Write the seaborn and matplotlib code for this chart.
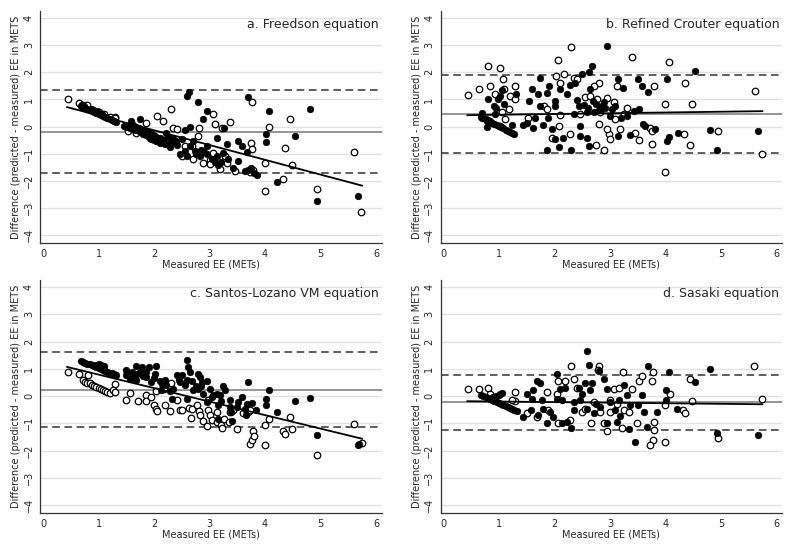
import numpy as np
import matplotlib
matplotlib.use("Agg")
import matplotlib.pyplot as plt
import seaborn as sns

# panel titles
titles = ["a. Freedson equation", "b. Refined Crouter equation",
          "c. Santos-Lozano VM equation", "d. Sasaki equation"]

# mean difference, upper and lower limits of agreement
mean_diff = [-0.20, 0.45, 0.23, -0.22]
upper_loa = [1.34, 1.89, 1.60, 0.78]
lower_loa = [-1.72, -0.96, -1.15, -1.23]

# regression line (intercept, slope) and x-range
reg_int = [0.954, 0.408, 1.283, -0.181]
reg_slope = [-0.545, 0.028, -0.496, -0.021]
reg_x = [0.43, 5.75]

# ---- panel a ----
a_filled = np.array([
    [0.68,0.77],[0.72,0.73],[0.76,0.70],[0.80,0.66],[0.84,0.62],[0.88,0.59],[0.92,0.55],[0.96,0.51],
    [1.00,0.47],[1.04,0.44],[1.08,0.40],[1.12,0.36],[1.16,0.32],[1.20,0.29],[1.24,0.25],[1.28,0.21],
    [1.32,0.18],[0.74,0.76],[0.86,0.66],[0.98,0.56],[1.06,0.48],
    [1.45,0.02],[1.50,-0.02],[1.55,0.00],[1.60,-0.08],[1.65,-0.12],[1.70,-0.10],[1.75,-0.20],[1.80,-0.28],
    [1.85,-0.30],[1.90,-0.38],[1.95,-0.45],[2.00,-0.50],[2.05,-0.55],[2.10,-0.60],[2.15,-0.58],[2.20,-0.65],
    [1.62,0.05],[1.72,-0.05],[1.82,-0.15],[1.92,-0.25],[2.02,-0.35],[2.12,-0.45],
    [1.57,-0.06],[1.67,-0.02],[1.77,-0.12],[1.87,-0.20],[1.97,-0.28],[2.07,-0.42],[2.17,-0.50],[2.25,-0.40],
    [2.59,1.11],[2.63,1.28],[2.80,0.89],[2.89,0.27],[2.95,0.58],[3.69,1.09],[4.07,0.58],[4.81,0.66],
    [4.01,-0.26],[4.01,-0.57],[4.53,-0.34],[4.21,-2.04],[4.93,-2.73],[5.67,-2.55],[3.85,-1.78],[3.67,-0.93],
    [3.59,-0.73],[3.52,-0.53],[3.51,-1.27],[3.31,-0.65],[3.14,-0.41],[3.26,-0.06],[2.65,0.00],[2.56,-0.12],
    [2.50,-0.47],[2.42,-0.68],[2.35,-0.47],[2.22,-0.22],[2.04,-0.53],[1.92,-0.41],[1.74,0.27],[1.59,0.21],
    [1.68,-0.04],[1.80,-0.22],[1.98,-0.34],[2.10,-0.41],[2.29,-0.77],[2.47,-1.02],[2.59,-1.08],[2.74,-0.90],
    [2.83,-1.08],[2.95,-0.71],[3.13,-1.08],[3.16,-1.41],[3.34,-1.21],[3.43,-1.51],[3.64,-1.64],[3.74,-1.54],
    [3.25,-0.96],[2.95,-1.02],[2.65,-0.71],[2.70,-0.55],[2.85,-0.85],[3.05,-1.20],[3.20,-1.30],[3.80,-1.72],
    [3.70,-1.60],[2.40,-0.55],[2.30,-0.60],[2.75,-1.00],[2.90,-0.95],[3.10,-1.30],[2.55,-0.90]])
a_hollow = np.array([
    [0.45,1.03],[0.65,0.86],[0.79,0.81],[2.30,0.64],[2.06,0.39],[2.17,0.21],[1.85,0.12],[1.29,0.37],
    [1.20,0.37],[3.07,0.46],[3.09,0.09],[3.37,0.17],[3.23,-0.06],[2.35,-0.07],[2.41,-0.10],[2.81,-0.06],
    [3.76,0.89],[4.07,0.00],[4.45,0.27],[3.75,-0.59],[3.77,-0.84],[4.36,-0.79],[4.48,-1.41],[4.00,-1.33],
    [4.00,-2.37],[4.32,-1.94],[4.94,-2.30],[5.60,-0.92],[5.73,-3.15],[2.79,-0.34],[2.68,-0.71],[2.89,-1.33],
    [3.00,-1.24],[3.01,-1.39],[3.28,-1.08],[3.31,-1.33],[3.46,-1.64],[3.73,-1.67],[3.79,-1.61],[3.19,-1.57],
    [2.51,-1.08],[2.71,-1.21],[2.56,-0.71],[2.77,-0.96],[3.07,-0.96],[2.19,-0.59],[1.92,-0.34],[1.68,-0.22],
    [1.53,-0.16],[0.70,0.80],[0.90,0.62],[1.10,0.45],[1.30,0.30],[1.00,0.52]])

# ---- panel b ----
b_filled = np.array([
    [0.68,0.37],[0.72,0.32],[0.76,0.28],[0.80,0.24],[0.84,0.19],[0.88,0.15],[0.92,0.10],[0.96,0.06],
    [1.00,0.02],[1.04,-0.03],[1.08,-0.07],[1.12,-0.12],[1.16,-0.16],[1.20,-0.20],[1.24,-0.25],[1.28,-0.29],
    [0.70,0.30],[0.78,0.22],[0.86,0.13],
    [0.70,0.49],[0.80,1.03],[0.79,-0.02],[0.92,0.76],[0.99,1.01],[1.02,1.13],[1.05,1.35],[0.93,0.46],
    [1.23,0.05],[1.31,1.19],[1.55,0.95],[1.59,1.40],[1.74,1.78],[1.70,1.19],[1.86,1.25],[1.74,0.76],
    [1.91,1.50],[2.11,1.38],[2.22,1.19],[2.29,1.53],[2.38,1.62],[2.50,1.93],[2.41,0.97],[2.53,0.79],
    [2.65,1.38],[2.63,2.02],[2.68,2.24],[2.59,0.52],[2.95,2.98],[2.92,0.70],[2.83,0.64],[3.01,0.39],
    [3.14,1.77],[3.23,1.44],[3.50,1.77],[3.58,1.48],[3.68,1.28],[3.52,0.64],[4.02,1.77],[4.54,2.05],
    [4.07,-0.37],[4.02,-0.55],[4.22,-0.22],[4.81,-0.12],[4.93,-0.86],[5.67,-0.18],[3.82,-0.10],[3.64,0.02],
    [3.37,-0.32],[3.14,-0.34],[2.62,-0.71],[2.30,-0.86],[1.86,-0.86],[2.09,-0.75],[2.16,-0.41],[2.02,-0.47],
    [2.47,-0.34],[2.47,0.02],[2.59,-0.41],[2.01,0.95],[2.01,0.76],[1.89,0.33],[1.80,0.05],[1.65,0.33],
    [1.61,-0.04],[1.44,0.05],[1.50,0.15],[1.95,-0.10],[2.35,0.46],[2.71,0.52],[3.04,0.64],[3.43,0.58],
    [2.75,0.85],[2.85,0.75],[2.70,0.95],[3.30,0.40],[3.60,0.10],[2.90,0.90],[3.20,0.30],[1.10,0.85],
    [0.95,0.70],[2.60,0.70],[2.80,0.60],[2.45,0.75],[3.10,0.75]])
b_hollow = np.array([
    [0.45,1.17],[0.65,1.40],[0.81,2.24],[1.02,2.15],[0.84,1.48],[1.08,1.75],[1.10,1.40],[1.29,1.50],
    [1.20,1.11],[1.29,1.03],[1.19,0.64],[0.93,1.19],[1.05,0.52],[1.11,0.27],[1.02,0.02],[2.30,2.94],
    [2.06,2.45],[2.17,1.93],[2.03,1.85],[2.11,1.60],[2.35,1.78],[2.41,1.77],[2.80,1.59],[2.71,1.48],
    [2.56,1.09],[2.65,1.13],[2.77,1.01],[2.95,1.07],[3.07,0.89],[3.13,1.48],[3.40,2.58],[4.07,2.39],
    [4.36,1.62],[3.79,1.48],[3.99,0.85],[4.48,0.82],[4.33,-0.28],[4.45,-0.69],[4.94,-0.16],[5.61,1.32],
    [5.74,-1.00],[3.99,-1.67],[3.76,-0.63],[3.52,-0.50],[3.46,-0.22],[3.73,-0.04],[3.76,-0.16],[3.31,0.70],
    [3.25,0.46],[3.19,-0.10],[2.98,-0.28],[3.01,-0.44],[2.89,-0.87],[2.75,-0.69],[2.29,-0.26],[1.95,-0.41],
    [2.08,0.02],[1.82,0.76],[1.86,0.64],[2.11,0.42],[1.53,0.32],[2.81,0.09],[3.10,0.27],[2.95,-0.10],
    [2.47,0.46],[2.83,0.52]])

# ---- panel c ----
c_filled = np.array([
    [0.68,1.29],[0.72,1.26],[0.76,1.23],[0.80,1.19],[0.84,1.16],[0.88,1.13],[0.92,1.09],[0.96,1.06],
    [1.00,1.03],[1.04,0.99],[1.08,0.96],[1.12,0.93],[1.16,0.89],[1.20,0.86],[1.24,0.83],[1.28,0.80],
    [1.32,0.76],[0.95,1.15],[1.00,1.18],[1.05,1.15],[1.10,1.12],
    [2.59,1.31],[2.62,1.06],[2.65,0.88],[2.79,0.79],[2.83,0.70],[1.49,0.96],[1.68,1.10],[1.74,0.88],
    [1.79,1.06],[1.91,1.06],[2.04,1.10],[2.01,0.82],[1.62,0.76],[1.56,0.61],[1.50,0.76],[1.68,0.57],
    [1.86,0.70],[1.95,0.51],[2.10,0.54],[2.13,0.21],[2.22,0.39],[2.29,0.17],[2.41,0.76],[2.51,0.76],
    [2.47,0.51],[2.56,0.39],[2.68,0.54],[2.71,0.21],[2.80,0.27],[2.87,0.51],[2.95,0.54],[2.89,0.09],
    [3.07,0.02],[3.13,0.09],[3.19,0.02],[3.25,0.35],[3.28,0.23],[3.37,-0.16],[3.37,-0.40],[3.39,-0.59],
    [3.41,-0.92],[3.52,-0.22],[3.58,-0.04],[3.67,-0.28],[3.66,-0.71],[3.70,0.51],[3.76,-0.26],[3.83,-0.50],
    [4.01,-0.10],[4.01,-0.32],[4.07,0.21],[4.21,-0.59],[4.53,-0.20],[4.81,-0.07],[4.93,-1.42],[5.67,-1.78],
    [5.69,-1.75],[3.16,-0.83],[2.95,-0.22],[2.59,-0.10],[2.35,0.27],[2.32,-0.10],[3.01,0.27],[3.16,-0.34],
    [3.49,-0.40],[3.64,-0.46],[2.20,0.60],[2.45,0.60],[1.80,0.75],[2.75,0.35],[3.05,-0.05],
    [1.60,0.90],[1.70,0.80],[1.85,0.90],[2.00,0.65],[2.15,0.45],[2.60,0.60],[2.85,0.35],[3.20,-0.20]])
c_hollow = np.array([
    [0.72,0.57],[0.76,0.53],[0.80,0.49],[0.84,0.46],[0.88,0.42],[0.92,0.38],[0.96,0.34],[1.00,0.31],
    [1.04,0.27],[1.08,0.23],[1.12,0.19],[1.16,0.16],[1.20,0.12],
    [0.45,0.88],[0.64,0.79],[0.81,0.76],[1.29,0.45],[1.26,0.21],[1.29,0.15],[1.50,-0.13],[1.56,0.12],
    [1.71,-0.20],[1.86,0.02],[1.86,-0.20],[1.95,-0.05],[2.00,-0.34],[2.04,-0.46],[2.06,-0.54],[2.19,-0.34],
    [2.29,-0.56],[2.30,0.49],[2.41,-0.15],[2.47,-0.52],[2.51,-0.50],[2.63,-0.44],[2.66,-0.81],[2.69,-0.46],
    [2.78,-0.32],[2.81,-0.56],[2.83,-0.71],[2.89,-0.92],[2.98,-0.52],[3.00,-0.71],[2.95,-1.10],[3.04,-0.87],
    [3.13,-0.95],[3.13,-0.59],[3.20,-1.05],[3.22,-1.17],[3.26,-0.85],[3.35,-0.95],[3.37,-0.59],[3.49,-1.20],
    [3.43,-0.52],[3.61,-0.62],[3.70,-0.59],[3.73,-0.52],[3.73,-1.75],[3.77,-1.62],[3.79,-1.28],[3.80,-1.48],
    [3.99,-1.05],[3.99,-1.81],[4.07,-0.85],[4.32,-1.29],[4.36,-1.38],[4.45,-0.76],[4.48,-1.22],[4.94,-2.15],
    [5.60,-1.01],[5.74,-1.71],[2.98,-0.16],[2.04,0.17],[2.18,0.27]])

# ---- panel d ----
d_filled = np.array([
    [0.68,0.03],[0.72,-0.01],[0.76,-0.04],[0.80,-0.08],[0.84,-0.12],[0.88,-0.15],[0.92,-0.19],[0.96,-0.23],
    [1.00,-0.27],[1.04,-0.30],[1.08,-0.34],[1.12,-0.38],[1.16,-0.41],[1.20,-0.45],[1.24,-0.49],[1.28,-0.52],
    [1.32,-0.56],[0.95,0.00],[1.00,0.05],[1.05,0.10],[0.90,-0.05],
    [2.59,1.64],[2.63,1.15],[2.80,0.92],[3.69,1.12],[4.07,0.88],[4.81,1.00],[4.53,0.51],[4.01,0.21],
    [4.01,-0.16],[4.21,-0.46],[4.93,-1.34],[5.67,-1.44],[3.45,-1.68],[3.67,-1.14],[3.85,-0.59],[3.61,-0.59],
    [3.58,0.05],[3.51,-0.32],[3.37,-0.34],[3.34,-1.20],[3.26,0.42],[3.19,-0.73],[3.13,-0.95],[3.16,-0.16],
    [2.95,-0.99],[2.95,0.24],[2.89,0.63],[2.68,0.49],[2.65,0.21],[2.71,-0.62],[2.56,0.49],[2.50,0.09],
    [2.47,-0.16],[2.35,-0.53],[2.30,-1.17],[2.22,-0.95],[2.13,-0.98],[2.04,0.82],[2.10,0.27],[2.13,-0.16],
    [1.98,-0.77],[1.92,-0.59],[1.80,-0.46],[1.86,-0.99],[1.77,-0.16],[1.74,0.49],[1.68,0.54],[1.62,0.21],
    [1.59,-0.10],[1.50,0.09],[1.44,-0.77],[1.58,-0.53],[1.71,-0.70],[1.02,0.09],[2.35,-0.22],[2.83,-0.40],
    [3.01,-0.22],[3.31,0.02],[2.59,-0.46],[2.04,-0.10],[2.20,0.30],[2.75,-0.30],[3.10,-0.50],[2.45,0.30]])
d_hollow = np.array([
    [0.45,0.24],[0.64,0.24],[0.81,0.31],[1.29,0.15],[1.29,-0.17],[1.23,-0.16],[0.84,0.09],[1.50,-0.62],
    [1.68,-0.77],[1.86,0.15],[1.89,-0.53],[2.04,0.09],[2.06,-0.99],[2.07,0.54],[2.19,0.54],[2.30,1.12],
    [2.29,-0.88],[2.35,0.61],[2.41,0.29],[2.50,-0.59],[2.66,-0.99],[2.81,1.10],[2.78,0.94],[2.83,-0.59],
    [2.89,-0.99],[2.95,-1.29],[3.01,-0.59],[3.01,-0.16],[3.07,0.27],[3.16,0.29],[3.22,-1.17],[3.23,0.88],
    [3.26,-0.53],[3.34,-0.59],[3.40,0.27],[3.49,-0.98],[3.52,0.54],[3.58,0.73],[3.77,0.88],[3.76,0.54],
    [3.79,-0.95],[3.80,-1.26],[3.77,-1.60],[3.73,-1.81],[4.00,-1.68],[4.00,-0.32],[4.08,0.09],[4.32,-0.53],
    [4.36,-0.62],[4.45,0.63],[4.48,-0.20],[4.94,-1.54],[5.60,1.10],[5.74,-0.10],[2.71,-0.22],[2.56,-0.46],
    [3.13,-0.28]])

filled_sets = [a_filled, b_filled, c_filled, d_filled]
hollow_sets = [a_hollow, b_hollow, c_hollow, d_hollow]

sns.set_style("white")
plt.rcParams['font.family'] = ['DejaVu Sans']

fig = plt.figure(figsize=(8, 5.49), dpi=100)
positions = [
    [0.0503, 0.557, 0.4268, 0.4224],
    [0.5507, 0.557, 0.4268, 0.4224],
    [0.0503, 0.0652, 0.4268, 0.4244],
    [0.5507, 0.0652, 0.4268, 0.4244],
]

for i in range(4):
    ax = fig.add_axes(positions[i])
    for yy in range(-4, 5):
        ax.axhline(yy, color='#e2e2e2', lw=1.0, zorder=0)
    ax.axhline(mean_diff[i], color='#8c8c8c', lw=1.3, zorder=1)
    ax.axhline(upper_loa[i], color='#333333', lw=1.1, ls=(0, (5, 3)), zorder=1)
    ax.axhline(lower_loa[i], color='#333333', lw=1.1, ls=(0, (5, 3)), zorder=1)

    f = filled_sets[i]
    h = hollow_sets[i]
    sns.scatterplot(x=h[:, 0], y=h[:, 1], ax=ax, s=22, color='white',
                    edgecolor='black', linewidth=0.9, zorder=2)
    sns.scatterplot(x=f[:, 0], y=f[:, 1], ax=ax, s=22, color='black',
                    edgecolor='black', linewidth=0.5, zorder=3)

    xs = np.array(reg_x)
    ax.plot(xs, reg_int[i] + reg_slope[i] * xs, color='black', lw=1.3, zorder=4)

    ax.set_xlim(-0.05, 6.1)
    ax.set_ylim(-4.3, 4.25)
    ax.set_xticks(range(0, 7))
    ax.set_yticks(range(-4, 5))
    ax.tick_params(axis='both', direction='out', length=3, width=0.8,
                   labelsize=7, pad=1.5, color='#333333')
    for lab in ax.get_yticklabels():
        lab.set_rotation(90)
        lab.set_va('center')
    ax.set_xlabel("Measured EE (METs)", fontsize=7, labelpad=0)
    ax.set_ylabel("Difference (predicted - measured) EE in METS", fontsize=7, labelpad=2)
    sns.despine(ax=ax)
    for sp in ['left', 'bottom']:
        ax.spines[sp].set_color('#333333')
        ax.spines[sp].set_linewidth(0.9)
    ax.text(6.05, 3.75, titles[i], ha='right', va='center', fontsize=9)

fig.savefig("out.png", dpi=100)
